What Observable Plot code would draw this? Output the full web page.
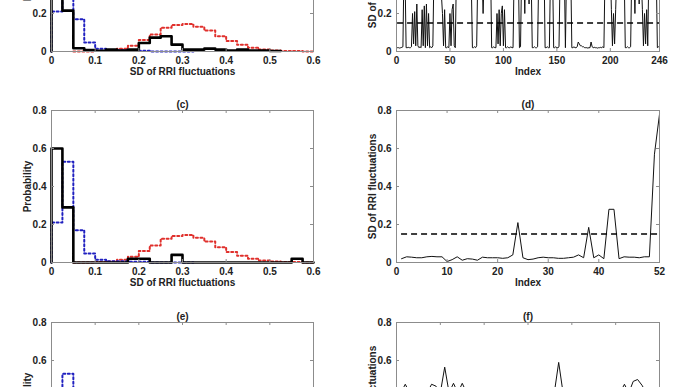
<!DOCTYPE html>
<html><head><meta charset="utf-8">
<script src="https://cdn.jsdelivr.net/npm/d3@7"></script>
<script src="https://cdn.jsdelivr.net/npm/@observablehq/plot@0.6"></script>
<style>
html,body{margin:0;padding:0;background:#fff;}
#wrap{position:relative;width:688px;height:387px;overflow:hidden;background:#fff;}
#wrap > .pn{position:absolute;}
</style></head><body><div id="wrap"></div>
<script>
// ---------- data ----------
const binEdges = [0,0.025,0.05,0.075,0.1,0.125,0.15,0.175,0.2,0.225,0.25,0.275,0.3,0.325,0.35,0.375,0.4,0.425,0.45,0.475,0.5,0.525,0.55,0.575,0.6];
// reference distributions (shared by histogram panels)
const blueProb = [0.21,0.53,0.17,0.047,0.015,0.007,0.007,0.004,0.004,0,0,0,0];            // bins from 0
const redStart = 2; // red histogram starts at bin edge 0.05
const redProb  = [0,0,0.002,0.005,0.015,0.03,0.06,0.09,0.125,0.14,0.145,0.13,0.11,0.08,0.055,0.035,0.02,0.01,0.005,0.003,0.002,0]; // bins from 0.05
// observed histograms
const blackA = [0.45,0.215,0.017,0.008,0.004,0.01,0.005,0.01,0.045,0.073,0.08,0.036,0.01,0.01,0.015,0.01,0.005,0.01,0.005,0.005,0.003];
const blackC = [0.6,0.29,0,0,0,0,0,0.02,0.02,0,0,0.04,0,0,0,0,0,0,0,0,0,0,0.02,0];
// time series of SD of RRI fluctuations
const seriesB = [
0.02,0.02,0.018,0.02,0.022,0.025,
0.45,0.4,
0.02,0.02,0.022,0.02,0.02,0.025,
0.2,0.04,0.21,0.03,
0.25,0.03,
0.02,0.025,0.02,
0.22,0.03,0.24,0.02,0.25,0.03,0.2,
0.02,0.025,0.02,0.03,
0.4,0.5,0.35,0.45,0.3,0.4,0.5,0.3,
0.2,0.03,0.22,
0.02,0.02,0.025,0.02,
0.2,0.03,0.22,0.25,0.03,
0.02,
0.4,0.45,0.5,0.35,0.42,0.48,0.3,0.45,0.4,0.5,0.38,0.44,0.5,0.42,0.35,
0.02,0.02,0.025,0.02,0.03,
0.4,0.45,0.5,0.38,0.42,
0.2,
0.4,0.45,0.35,0.5,0.42,0.38,0.45,
0.02,0.02,0.025,0.02,0.02,
0.2,0.04,0.22,0.03,0.2,0.24,0.03,0.22,
0.02,0.02,0.025,0.02,0.02,0.025,0.02,0.02,
0.4,0.45,0.5,0.38,0.42,
0.02,0.025,
0.4,0.3,0.45,0.2,0.5,0.35,0.42,0.25,0.45,0.38,
0.02,0.02,0.025,0.02,0.02,0.025,
0.4,0.45,0.5,0.38,0.42,0.45,
0.02,0.02,0.025,0.02,0.02,
0.4,0.45,0.42,
0.02,0.02,0.025,0.02,0.02,0.025,
0.4,0.45,0.5,0.38,0.42,
0.02,
0.4,0.45,0.5,0.38,0.42,
0.02,0.02,0.025,0.02,0.02,0.025,
0.05,0.04,
0.03,0.03,0.025,0.025,0.02,0.02,0.02,0.018,0.02,0.02,0.05,0.025,0.02,0.022,0.02,0.02,0.018,0.02,0.02,0.022,0.02,0.025,0.02,
0.4,0.45,0.5,0.38,0.42,0.45,
0.22,0.03,0.2,0.04,0.22,
0.4,0.45,0.5,0.38,0.42,0.45,0.35,0.4,
0.02,0.02,0.025,0.02,0.02,0.025,
0.4,0.3,0.45,0.2,0.5,0.35,0.42,0.25,0.45,0.38,
0.22,0.03,0.2,0.04,0.22,0.03,
0.4,0.45,0.5,0.38,0.42,0.45,0.35,0.4,
0.02,0.025,0.02
];
const seriesD = [0.02,0.03,0.028,0.025,0.025,0.03,0.032,0.03,0.03,0.005,0.015,0.03,0.012,0.02,0.018,0.012,0.028,0.025,0.025,0.025,0.022,0.025,0.04,0.21,0.025,0.015,0.018,0.025,0.028,0.025,0.025,0.022,0.022,0.025,0.028,0.04,0.025,0.185,0.025,0.04,0.02,0.28,0.28,0.02,0.03,0.028,0.028,0.025,0.03,0.03,0.57,0.78];
const seriesF = [0.43,0.475,0.43,0.43,0.43,0.43,0.43,0.475,0.465,0.43,0.565,0.43,0.48,0.43,0.48,0.43,0.43,0.43,0.43,0.43,0.43,0.43,0.43,0.43,0.43,0.43,0.43,0.43,0.43,0.43,0.43,0.43,0.43,0.43,0.43,0.43,0.59,0.43,0.43,0.43,0.43,0.43,0.43,0.43,0.43,0.43,0.43,0.43,0.43,0.43,0.43,0.475,0.43,0.49,0.5,0.47,0.43,0.43,0.43,0.43];
const threshold = 0.15;
const yTicks = [0,0.2,0.4,0.6,0.8];
const histTicks = [0,0.1,0.2,0.3,0.4,0.5,0.6];
const ticksB = [0,50,100,150,200,246];
const ticksD = [0,10,20,30,40,52];
const ticksF = [0,10,20,30,40,50,60];

// ---------- helpers ----------
const FONT = "'Liberation Sans', Arial, Helvetica, sans-serif";
const GRID = "#8c8c8c";
function stairs(values, startIdx){
  const pts = [{x: binEdges[startIdx], y: 0}];
  values.forEach((v,i)=>pts.push({x: binEdges[startIdx+i], y: v}));
  pts.push({x: binEdges[startIdx+values.length], y: values[values.length-1]});
  return pts;
}
function seriesPts(vals){ return vals.map((v,i)=>({x:i+1, y:v})); }
function panel({left, top, right, xDomain, xTicks, title, xLabel, yLabel, marks}){
  const mL = right ? 52 : 51, mR = right ? 29 : 31;
  const tkx = (xDomain[1]-xDomain[0]) * 3/262, tky = 0.8*3/152;
  const fig = Plot.plot({
    width: 344, height: 222, marginLeft: mL, marginRight: mR, marginTop: 30, marginBottom: 40,
    style: {fontFamily: FONT, fontSize: "10px", fontWeight: "bold", background: "transparent", color: "#222", overflow: "visible"},
    x: {domain: xDomain, ticks: xTicks, tickFormat: d=>String(d), tickSize: 0, tickPadding: 5, label: null},
    y: {domain: [0,0.8], ticks: yTicks, tickFormat: d=>String(d), tickSize: 0, tickPadding: 5, label: null},
    marks: [
      ...marks,
      Plot.frame({stroke: GRID, strokeWidth: 1}),
      Plot.ruleX(xTicks, {x: d=>d, y1: 0, y2: tky, stroke: GRID}),
      Plot.ruleX(xTicks, {x: d=>d, y1: 0.8, y2: 0.8-tky, stroke: GRID}),
      Plot.ruleY(yTicks, {y: d=>d, x1: xDomain[0], x2: xDomain[0]+tkx, stroke: GRID}),
      Plot.ruleY(yTicks, {y: d=>d, x1: xDomain[1], x2: xDomain[1]-tkx, stroke: GRID}),
      Plot.text([title], {text: d=>d, frameAnchor: "top", dy: -10, fontSize: 10, fontWeight: "bold", fill: "#222"}),
      Plot.text([xLabel], {text: d=>d, frameAnchor: "bottom", dy: 23, fontSize: 10, fontWeight: "bold", fill: "#222"}),
      Plot.text([yLabel], {text: d=>d, frameAnchor: "left", textAnchor: "middle", dx: -24, rotate: -90, fontSize: 10, fontWeight: "bold", fill: "#222"})
    ]
  });
  const div = document.createElement("div");
  div.className = "pn";
  div.style.left = left + "px"; div.style.top = top + "px";
  div.appendChild(fig);
  document.getElementById("wrap").appendChild(div);
}
const refMarks = () => [
  Plot.line(stairs(redProb, redStart), {x: "x", y: "y", curve: "step-after", stroke: "#e0302c", strokeWidth: 2, strokeDasharray: "2,2.5"}),
  Plot.line(stairs(blueProb, 0), {x: "x", y: "y", curve: "step-after", stroke: "#2020c0", strokeWidth: 2, strokeDasharray: "2,2.5"})
];
const blackMark = vals => Plot.line(stairs(vals, 0), {x: "x", y: "y", curve: "step-after", stroke: "#000", strokeWidth: 2.6});
const seriesMarks = vals => [
  Plot.line(seriesPts(vals), {x: "x", y: "y", stroke: "#111", strokeWidth: 1}),
  Plot.ruleY([threshold], {x1: 1, x2: vals.length, stroke: "#000", strokeWidth: 1.6, strokeDasharray: "6,4"})
];

// ---------- panels ----------
panel({left: 0, top: -131, xDomain: [0,0.6], xTicks: histTicks, title: "(a)", xLabel: "SD of RRI fluctuations", yLabel: "Probability",
  marks: [...refMarks(), blackMark(blackA)]});
panel({left: 344, top: -131, right: true, xDomain: [0,246], xTicks: ticksB, title: "(b)", xLabel: "Index", yLabel: "SD of RRI fluctuations",
  marks: seriesMarks(seriesB)});
panel({left: 0, top: 80, xDomain: [0,0.6], xTicks: histTicks, title: "(c)", xLabel: "SD of RRI fluctuations", yLabel: "Probability",
  marks: [...refMarks(), blackMark(blackC)]});
panel({left: 344, top: 80, right: true, xDomain: [0,52], xTicks: ticksD, title: "(d)", xLabel: "Index", yLabel: "SD of RRI fluctuations",
  marks: seriesMarks(seriesD)});
panel({left: 0, top: 292, xDomain: [0,0.6], xTicks: histTicks, title: "(e)", xLabel: "SD of RRI fluctuations", yLabel: "Probability",
  marks: [...refMarks()]});
panel({left: 344, top: 292, right: true, xDomain: [0,60], xTicks: ticksF, title: "(f)", xLabel: "Index", yLabel: "SD of RRI fluctuations",
  marks: [Plot.line(seriesPts(seriesF), {x: "x", y: "y", stroke: "#111", strokeWidth: 1})]});
</script></body></html>
